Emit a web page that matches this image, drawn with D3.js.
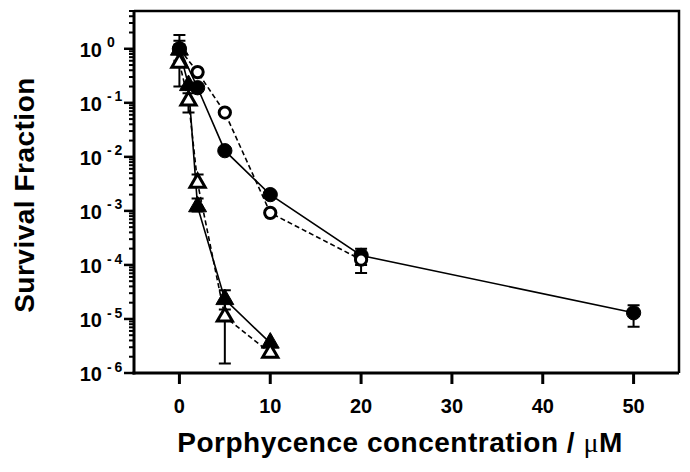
<!DOCTYPE html>
<html>
<head>
<meta charset="utf-8">
<script src="https://cdn.jsdelivr.net/npm/d3@7"></script>
<style>
  body { margin: 0; background: #fff; }
  svg { display: block; }
</style>
</head>
<body>
<script>
// survival fraction vs porphycene concentration (uM)
const xTicks = [0, 10, 20, 30, 40, 50];
const yTicks = [0, -1, -2, -3, -4, -5, -6]; // exponents

// filled circles, solid line
const filledCircleX = [0, 2, 5, 10, 20, 50];
const filledCircleY = [1.0, 0.19, 0.013, 0.002, 1.5e-4, 1.3e-5];
const filledCircleLo = [0.6, 0.19, 0.013, 0.002, 7.1e-5, 7.2e-6];
const filledCircleHi = [1.4, 0.19, 0.013, 0.002, 2.0e-4, 1.8e-5];

// open circles, dashed line
const openCircleX = [0, 2, 5, 10, 20];
const openCircleY = [1.0, 0.37, 0.066, 9.2e-4, 1.25e-4];
const openCircleLo = [0.8, 0.37, 0.066, 9.2e-4, 1.0e-4];
const openCircleHi = [1.2, 0.37, 0.066, 9.2e-4, 1.5e-4];

// filled triangles, solid line
const filledTriX = [0, 1, 2, 5, 10];
const filledTriY = [0.95, 0.21, 1.2e-3, 2.3e-5, 3.6e-6];
const filledTriLo = [0.55, 0.21, 9.7e-4, 1.5e-5, 3.6e-6];
const filledTriHi = [1.8, 0.21, 1.7e-3, 3.4e-5, 3.6e-6];

// open triangles, dashed line
const openTriX = [0, 1, 2, 5, 10];
const openTriY = [0.55, 0.11, 3.3e-3, 1.1e-5, 2.35e-6];
const openTriLo = [0.2, 0.066, 3.3e-3, 1.5e-6, 2.35e-6];
const openTriHi = [0.9, 0.15, 4.7e-3, 2.0e-5, 2.35e-6];

const width = 690, height = 472;
const margin = { top: 11, right: 11, bottom: 99, left: 134 };

const x = d3.scaleLinear().domain([-5, 55]).range([margin.left, width - margin.right]);
const y = d3.scaleLog().domain([1e-6, 5]).range([height - margin.bottom, margin.top]);

const svg = d3.select("body").append("svg")
  .attr("width", width)
  .attr("height", height)
  .attr("font-family", "'Liberation Sans', Arial, sans-serif")
  .attr("font-weight", "bold");

// frame (top and right)
svg.append("path")
  .attr("d", `M${x(-5)},${y(5)}H${x(55)}V${y(1e-6)}`)
  .attr("fill", "none")
  .attr("stroke", "#000")
  .attr("stroke-width", 2.5);

// y axis with minor ticks
const minor = [];
for (let e = -6; e < 1; e++) for (let m = 2; m <= 9; m++) if (m * Math.pow(10, e) <= 5) minor.push(m * Math.pow(10, e));

const yAxis = svg.append("g").attr("stroke", "#000");
yAxis.selectAll("line.minor").data(minor).join("line")
  .attr("class", "minor")
  .attr("x1", margin.left - 5).attr("x2", margin.left)
  .attr("y1", d => y(d)).attr("y2", d => y(d))
  .attr("stroke-width", 2);
yAxis.selectAll("line.major").data(yTicks).join("line")
  .attr("class", "major")
  .attr("x1", margin.left - 10).attr("x2", margin.left)
  .attr("y1", d => y(Math.pow(10, d))).attr("y2", d => y(Math.pow(10, d)))
  .attr("stroke-width", 2.5);
yAxis.append("line")
  .attr("x1", margin.left).attr("x2", margin.left)
  .attr("y1", y(5) - 1).attr("y2", y(1e-6) + 1.5)
  .attr("stroke-width", 3);

const ylab = svg.append("g").selectAll("text").data(yTicks).join("text")
  .attr("x", 102)
  .attr("y", d => y(Math.pow(10, d)))
  .attr("dy", "0.42em")
  .attr("text-anchor", "end")
  .attr("font-size", 20);
ylab.append("tspan").text("10");
ylab.append("tspan")
  .attr("x", 107)
  .attr("dy", "-0.7em")
  .attr("text-anchor", "start")
  .attr("font-size", 14)
  .text(d => d === 0 ? "0" : "-\u2009" + (-d));

// x axis
svg.append("line")
  .attr("x1", margin.left - 1.5).attr("x2", width - margin.right)
  .attr("y1", y(1e-6)).attr("y2", y(1e-6))
  .attr("stroke", "#000").attr("stroke-width", 3);
svg.append("g").selectAll("line").data(xTicks).join("line")
  .attr("x1", d => x(d)).attr("x2", d => x(d))
  .attr("y1", y(1e-6)).attr("y2", y(1e-6) + 11)
  .attr("stroke", "#000").attr("stroke-width", 3);
svg.append("g").selectAll("text").data(xTicks).join("text")
  .attr("x", d => x(d))
  .attr("y", y(1e-6) + 40)
  .attr("text-anchor", "middle")
  .attr("font-size", 20)
  .text(d => d);

// axis titles
const xt = svg.append("text")
  .attr("x", 400).attr("y", 452)
  .attr("text-anchor", "middle")
  .attr("font-size", 28)
  .attr("letter-spacing", 0.5)
  .text("Porphycence concentration /  ");
xt.append("tspan")
  .attr("font-family", "'Liberation Serif', 'Times New Roman', serif")
  .attr("font-weight", "normal")
  .text("\u03bc");
xt.append("tspan").text("M");

svg.append("text")
  .attr("transform", `translate(34,195) rotate(-90)`)
  .attr("text-anchor", "middle")
  .attr("font-size", 28)
  .attr("letter-spacing", 0.5)
  .text("Survival Fraction");

// series
const series = [
  { xs: filledCircleX, ys: filledCircleY, lo: filledCircleLo, hi: filledCircleHi, shape: "circle", filled: true, dash: null },
  { xs: openCircleX, ys: openCircleY, lo: openCircleLo, hi: openCircleHi, shape: "circle", filled: false, dash: "5,3" },
  { xs: filledTriX, ys: filledTriY, lo: filledTriLo, hi: filledTriHi, shape: "triangle", filled: true, dash: null },
  { xs: openTriX, ys: openTriY, lo: openTriLo, hi: openTriHi, shape: "triangle", filled: false, dash: "5,3" }
];

const line = d3.line().x(d => x(d.x)).y(d => y(d.y));

series.forEach(s => {
  const pts = s.xs.map((v, i) => ({ x: v, y: s.ys[i], lo: s.lo[i], hi: s.hi[i] }));
  const g = svg.append("g");

  g.append("path")
    .attr("d", line(pts))
    .attr("fill", "none")
    .attr("stroke", "#000")
    .attr("stroke-width", 1.6)
    .attr("stroke-dasharray", s.dash);

  // error bars
  const eb = pts.filter(d => d.hi / d.lo > 1.05);
  g.selectAll("path.err").data(eb).join("path")
    .attr("class", "err")
    .attr("d", d => `M${x(d.x)},${y(d.lo)}V${y(d.hi)}M${x(d.x) - 6},${y(d.lo)}h12M${x(d.x) - 6},${y(d.hi)}h12`)
    .attr("fill", "none")
    .attr("stroke", "#000")
    .attr("stroke-width", 2);

  const sym = d3.symbol()
    .type(s.shape === "circle" ? d3.symbolCircle : d3.symbolTriangle)
    .size(s.shape === "circle" ? (s.filled ? 160 : 100) : (s.filled ? 140 : 100));

  g.selectAll("path.mark").data(pts).join("path")
    .attr("class", "mark")
    .attr("transform", d => `translate(${x(d.x)},${y(d.y)})`)
    .attr("d", sym)
    .attr("fill", s.filled ? "#000" : "#fff")
    .attr("stroke", "#000")
    .attr("stroke-width", s.filled ? 1 : 3);
});
</script>
</body>
</html>
